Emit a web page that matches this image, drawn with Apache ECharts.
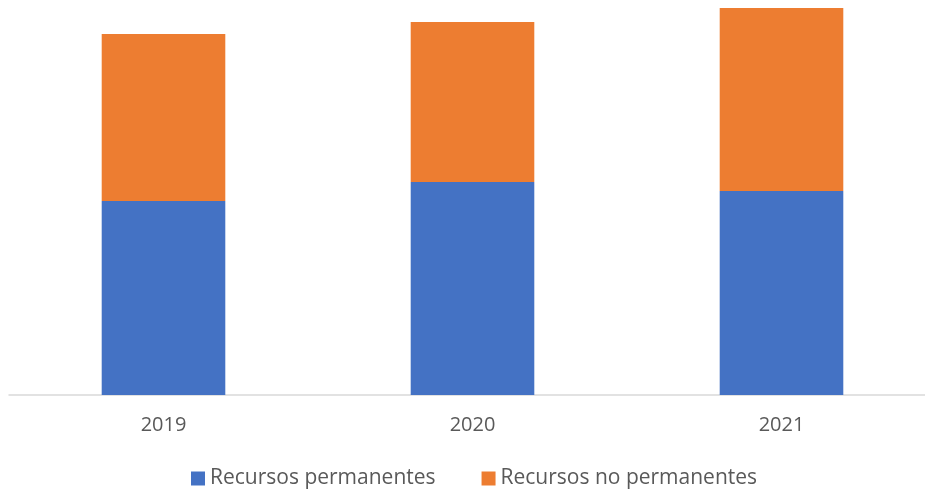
<!DOCTYPE html>
<html>
<head>
<meta charset="utf-8">
<script src="https://cdn.jsdelivr.net/npm/echarts@6/dist/echarts.min.js"></script>
<style>
  html, body { margin: 0; padding: 0; background: #fff; overflow: hidden; }
  /* the plot runs a little past the right edge of the window */
  #chart { width: 936px; height: 490px; }
</style>
</head>
<body>
<div id="chart"></div>
<script>
// Yearly staff resources, stacked: permanent + non-permanent
const years = ['2019', '2020', '2021'];
const permanentes = [194, 213, 204];
const noPermanentes = [167, 160, 183];
const seriesNames = ['Recursos permanentes', 'Recursos no permanentes'];

const FONT = '"Open Sans", "Noto Sans", sans-serif';

const chart = echarts.init(document.getElementById('chart'), null, { renderer: 'canvas' });
chart.setOption({
  animation: false,
  color: ['#4472C4', '#ED7D31'],
  grid: { left: 9, right: 0, top: 5, bottom: 95, containLabel: false },
  legend: {
    left: 191,
    top: 468,
    padding: 0,
    icon: 'rect',
    itemWidth: 14,
    itemHeight: 14,
    itemGap: 46,
    textStyle: { fontFamily: FONT, fontSize: 21, color: '#595959' },
    data: seriesNames
  },
  xAxis: {
    type: 'category',
    data: years,
    axisLine: { lineStyle: { color: '#d9d9d9', width: 1.5 } },
    axisTick: { show: false },
    axisLabel: { fontFamily: FONT, fontSize: 20, color: '#595959', margin: 20 }
  },
  yAxis: {
    type: 'value',
    min: 0,
    max: 390,
    show: false,
    splitLine: { show: false }
  },
  series: [
    {
      name: seriesNames[0],
      type: 'bar',
      stack: 'total',
      barWidth: '40%',
      data: permanentes
    },
    {
      name: seriesNames[1],
      type: 'bar',
      stack: 'total',
      barWidth: '40%',
      data: noPermanentes
    }
  ]
});
</script>
</body>
</html>
